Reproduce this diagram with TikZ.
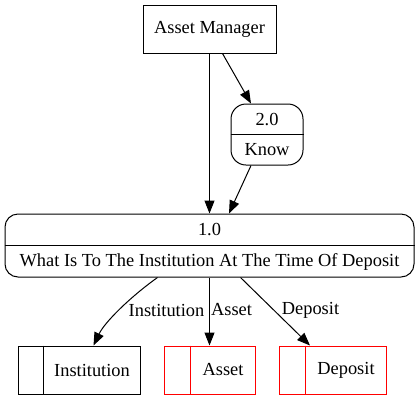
\documentclass[tikz,border=0pt]{standalone}
\usepackage{fontspec}
\setmainfont{Liberation Serif}
\usetikzlibrary{arrows.meta}
\begin{document}
\begin{tikzpicture}[x=1pt,y=-1pt,
  every node/.style={font=\fontsize{18.4}{21}\selectfont, inner sep=0pt},
  ent/.style={draw, line width=1pt},
  proc/.style={draw, line width=1pt, rounded corners=15pt},
  storeblack/.style={draw, line width=1pt},
  storered/.style={draw=red, line width=1pt},
  flow/.style={line width=1pt, -{Triangle[length=13pt,width=10pt]}},
  lbl/.style={fill=none}
]
\useasboundingbox (0,0) rectangle (420,400);
% external entity
\node[ent, minimum width=133pt, minimum height=48pt] (am) at (209.5,29) {Asset Manager};
% process 2.0
\node[proc, minimum width=72pt, minimum height=61pt] (p2) at (267,134.5) {};
\node (p2a) at (267,119.5) {2.0};
\node (p2b) at (267,150) {Know};
\draw[line width=1pt] (p2.west |- 0,134) -- (p2.east |- 0,134);
% process 1.0
\node[proc, rounded corners=13pt, minimum width=409pt, minimum height=63pt] (p1) at (209.5,245.5) {};
\node (p1a) at (209.5,230) {1.0};
\node (p1b) at (209.5,262) {What Is To The Institution At The Time Of Deposit};
\draw[line width=1pt] (p1.west |- 0,245) -- (p1.east |- 0,245);
% data stores
\node[storeblack, minimum width=122pt, minimum height=48pt] (s1) at (79,370) {};
\draw[line width=1pt] ([xshift=26pt]s1.north west) -- ([xshift=26pt]s1.south west);
\node (s1t) at (92,370) {Institution};
\node[storered, minimum width=91pt, minimum height=48pt] (s2) at (209.5,370) {};
\draw[red, line width=1pt] ([xshift=27pt]s2.north west) -- ([xshift=27pt]s2.south west);
\node (s2t) at (223,370) {Asset};
\node[storered, minimum width=107pt, minimum height=48pt] (s3) at (332.5,370) {};
\draw[red, line width=1pt] ([xshift=27pt]s3.north west) -- ([xshift=27pt]s3.south west);
\node (s3t) at (346,370) {Deposit};
% flows
\draw[flow] (am.south) -- (p1.north);
\draw[flow] ([xshift=13pt]am.south) -- ([xshift=-16pt]p2.north);
\draw[flow] ([xshift=-16pt]p2.south) -- ([xshift=19.5pt]p1.north);
\draw[flow] ([xshift=-52pt]p1.south) .. controls ([xshift=-80pt,yshift=-20pt]p1.south) and ([xshift=-105pt,yshift=-45pt]p1.south) .. ([xshift=14.5pt]s1.north);
\draw[flow] (p1.south) -- (p1.south |- s2.north);
\draw[flow] ([xshift=31pt]p1.south) -- ([xshift=-22.5pt]s3.north);
% labels
\node[lbl] (l1) at (166.5,310) {Institution};
\node[lbl] (l2) at (231.5,310) {Asset};
\node[lbl] (l3) at (310.5,310) {Deposit};
\end{tikzpicture}
\end{document}
